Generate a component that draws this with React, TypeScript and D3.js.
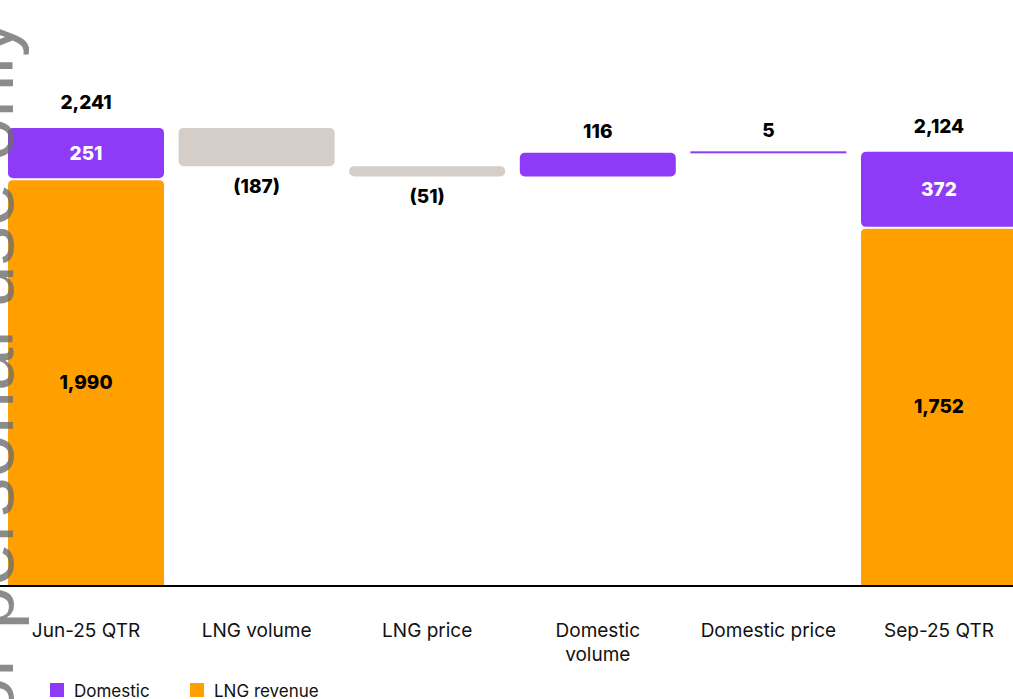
import React from "react";
import * as d3 from "d3";

const categories = ["Jun-25 QTR", "LNG volume", "LNG price", "Domestic volume", "Domestic price", "Sep-25 QTR"];
const tickLabels = ["Jun-25 QTR", "LNG volume", "LNG price", "Domestic\nvolume", "Domestic price", "Sep-25 QTR"];
// totals (stacked): LNG revenue + Domestic
const totalCats = ["Jun-25 QTR", "Sep-25 QTR"];
const lngRevenue = [1990, 1752];
const domestic = [251, 372];
// movements between totals
const deltaCats = ["LNG volume", "LNG price", "Domestic volume", "Domestic price"];
const deltaValues = [-187, -51, 116, 5];
const legendItems = ["Domestic", "LNG revenue"];

const W = 1013;
const H = 699;
const PURPLE = "#8D3BF6";
const ORANGE = "#FF9F00";
const GRAY = "#D5CDC8";
const FONT = "Inter, 'Noto Sans', sans-serif";

const fmt = (v: number) => (v < 0 ? `(${d3.format(",")(-v)})` : d3.format(",")(v));

export default function App() {
  const x = d3.scaleBand<string>().domain(categories).range([0, 1025]).paddingInner(0.0857).paddingOuter(0.047);
  const y = d3.scaleLinear().domain([0, 2400]).range([586, 95.4]);
  const bw = x.bandwidth();
  const g = 1;

  const marks: React.ReactNode[] = [];
  const labels: React.ReactNode[] = [];

  totalCats.forEach((c, i) => {
    const x0 = x(c)!;
    const cx = x0 + bw / 2;
    const lng = lngRevenue[i];
    const dom = domestic[i];
    const tot = lng + dom;
    const oTop = y(lng) + g;
    marks.push(
      <path
        key={`o${i}`}
        d={`M${x0},${y(0)} V${oTop + 5} Q${x0},${oTop} ${x0 + 5},${oTop} H${x0 + bw - 5} Q${x0 + bw},${oTop} ${x0 + bw},${oTop + 5} V${y(0)} Z`}
        fill={ORANGE}
      />
    );
    marks.push(
      <rect key={`p${i}`} x={x0} y={y(tot)} width={bw} height={y(lng) - y(tot) - g} rx={5} fill={PURPLE} />
    );
    labels.push(
      <text key={`tl${i}`} x={cx} y={y(tot) - 25} textAnchor="middle" dominantBaseline="central" fontWeight={800} fontSize={19} fill="#000">
        {fmt(tot)}
      </text>
    );
    labels.push(
      <text key={`dl${i}`} x={cx} y={(y(tot) + y(lng)) / 2} textAnchor="middle" dominantBaseline="central" fontWeight={800} fontSize={19} fill="#fff">
        {fmt(dom)}
      </text>
    );
    labels.push(
      <text key={`ll${i}`} x={cx} y={(y(lng) + y(0)) / 2} textAnchor="middle" dominantBaseline="central" fontWeight={800} fontSize={19} fill="#000">
        {fmt(lng)}
      </text>
    );
  });

  let running = lngRevenue[0] + domestic[0];
  deltaCats.forEach((c, i) => {
    const v = deltaValues[i];
    const start = running;
    const end = running + v;
    running = end;
    const x0 = x(c)!;
    const cx = x0 + bw / 2;
    const top = y(Math.max(start, end));
    const bot = y(Math.min(start, end));
    const h = bot - top;
    const fill = v < 0 ? GRAY : PURPLE;
    if (h < 3) {
      marks.push(<rect key={`d${i}`} x={x0} y={top - 0.5} width={bw} height={2} fill={fill} />);
    } else {
      marks.push(<rect key={`d${i}`} x={x0} y={top} width={bw} height={h} rx={Math.min(5, h / 2)} fill={fill} />);
    }
    labels.push(
      <text
        key={`dv${i}`}
        x={cx}
        y={v < 0 ? bot + 20 : top - 21}
        textAnchor="middle"
        dominantBaseline="central"
        fontWeight={800}
        fontSize={19}
        fill="#000"
      >
        {fmt(v)}
      </text>
    );
  });

  return (
    <svg width={W} height={H} style={{ position: "absolute", left: 0, top: 0, background: "#fff" }} fontFamily={FONT}>
      <rect width={W} height={H} fill="#fff" />
      {marks}
      <line x1={0} x2={W} y1={y(0)} y2={y(0)} stroke="#000" strokeWidth={2} />
      {labels}
      {categories.map((c, i) => (
        <text key={`t${i}`} x={x(c)! + bw / 2} y={630} textAnchor="middle" dominantBaseline="central" fontSize={19} fill="#111">
          {tickLabels[i].split("\n").map((ln, j) => (
            <tspan key={j} x={x(c)! + bw / 2} dy={j === 0 ? 0 : 24}>
              {ln}
            </tspan>
          ))}
        </text>
      ))}
      {legendItems.map((l, i) => {
        const lx = [50, 190][i];
        return (
          <g key={`lg${i}`}>
            <rect x={lx} y={683} width={14} height={14} fill={i === 0 ? PURPLE : ORANGE} />
            <text x={lx + 24} y={691} dominantBaseline="central" fontSize={17} fill="#111">
              {l}
            </text>
          </g>
        );
      })}
      <text
        transform="translate(13,18) rotate(-90)"
        textAnchor="end"
        fontFamily="'Liberation Sans', Arial, sans-serif"
        fontSize={78}
        fill="#6e6e6e"
        fillOpacity={0.8}
      >
        For personal use only
      </text>
    </svg>
  );
}
